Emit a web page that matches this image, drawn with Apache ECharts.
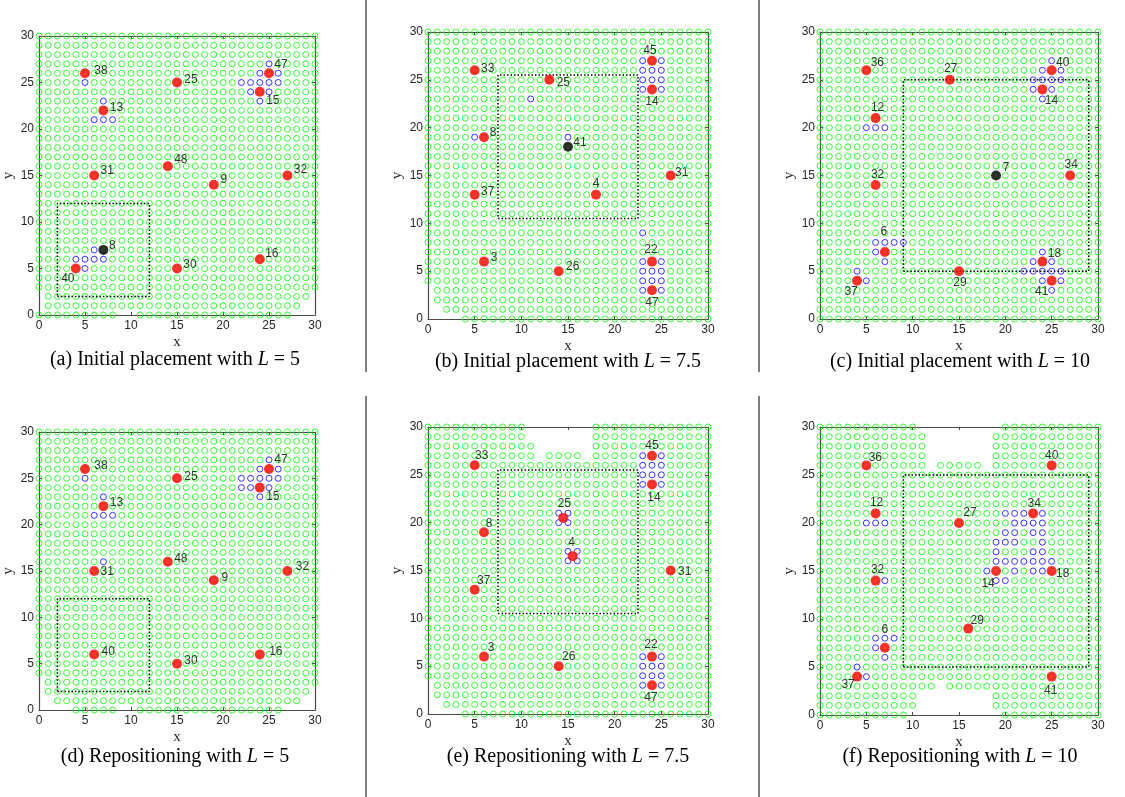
<!DOCTYPE html>
<html><head><meta charset="utf-8">
<script src="https://cdn.jsdelivr.net/npm/echarts@6/dist/echarts.min.js"></script>
<style>html,body{margin:0;padding:0;background:#fff}#c{width:1125px;height:797px}</style>
</head><body><div id="c"></div>
<script>
// ---------- data ----------
const axisTicks = [0, 5, 10, 15, 20, 25, 30];
const gridMax = 30;
const panelKeys = ['a', 'b', 'c', 'd', 'e', 'f'];
const captionPrefix = ['(a) Initial placement with ', '(b) Initial placement with ', '(c) Initial placement with ',
  '(d) Repositioning with ', '(e) Repositioning with ', '(f) Repositioning with '];
const captionL = ['5', '7.5', '10', '5', '7.5', '10'];

// (a)
const redA = [[5,26,'38'],[15,25,'25'],[25,26,'47'],[24,24,'15'],[7,22,'13'],[14,16,'48'],[6,15,'31'],[27,15,'32'],[19,14,'9'],[24,6,'16'],[15,5,'30'],[4,5,'40']];
const blackA = [[7,7,'8']];
const blueA = [[5,25],[7,23],[6,21],[7,21],[8,21],[25,27],[24,26],[26,26],[22,25],[23,25],[24,25],[25,25],[26,25],[23,24],[25,24],[24,23],[6,7],[4,6],[5,6],[6,6],[7,6],[5,5]];
const gapsA = [[0,9,10],[0,28,30],[1,0,0],[1,29,30],[2,0,0],[2,30,30]];
const boxA = [2,12,2,12];
// (b)
const redB = [[5,26,'33'],[13,25,'25'],[24,27,'45'],[24,24,'14'],[6,19,'8'],[26,15,'31'],[5,13,'37'],[18,13,'4'],[6,6,'3'],[14,5,'26'],[24,6,'22'],[24,3,'47']];
const blackB = [[15,18,'41']];
const blueB = [[11,23],[5,19],[15,19],[23,27],[25,27],[23,26],[24,26],[25,26],[23,25],[24,25],[25,25],[23,24],[25,24],[23,9],[23,6],[25,6],[23,5],[24,5],[25,5],[23,4],[24,4],[25,4],[23,3],[25,3]];
const gapsB = [[0,0,3],[1,0,1],[2,0,0],[3,0,0]];
const boxB = [7.5,22.5,10.5,25.5];
// (c)
const redC = [[5,26,'36'],[14,25,'27'],[25,26,'40'],[24,24,'14'],[6,21,'12'],[6,14,'32'],[27,15,'34'],[7,7,'6'],[24,6,'18'],[15,5,'29'],[4,4,'37'],[25,4,'41']];
const blackC = [[19,15,'7']];
const blueC = [[25,27],[24,26],[26,26],[23,25],[24,25],[25,25],[26,25],[23,24],[25,24],[24,23],[5,20],[6,20],[7,20],[6,8],[7,8],[8,8],[9,8],[6,7],[7,6],[4,5],[5,4],[24,7],[23,6],[25,6],[22,5],[23,5],[24,5],[25,5],[26,5],[24,4],[26,4],[25,3]];
const gapsC = [];
const boxC = [9,29,5,25];
// (d)
const redD = [[5,26,'38'],[15,25,'25'],[25,26,'47'],[24,24,'15'],[7,22,'13'],[14,16,'48'],[6,15,'31'],[27,15,'32'],[19,14,'9'],[6,6,'40'],[15,5,'30'],[24,6,'16']];
const blackD = [];
const blueD = [[5,25],[7,23],[6,21],[7,21],[8,21],[7,16],[25,27],[24,26],[26,26],[22,25],[23,25],[24,25],[25,25],[26,25],[22,24],[23,24],[25,24],[24,23]];
const gapsD = [[0,0,3],[0,9,10],[0,27,30],[1,0,1],[1,29,30],[2,0,0],[2,30,30],[3,0,0]];
const boxD = [2,12,2,12];
// (e)
const redE = [[5,26,'33'],[24,27,'45'],[24,24,'14'],[14.5,20.5,'25'],[6,19,'8'],[15.5,16.5,'4'],[26,15,'31'],[5,13,'37'],[6,6,'3'],[14,5,'26'],[24,6,'22'],[24,3,'47']];
const blackE = [];
const blueE = [[23,27],[25,27],[23,26],[24,26],[25,26],[23,25],[24,25],[25,25],[23,24],[25,24],[14,21],[15,21],[14,20],[15,20],[15,17],[16,17],[15,16],[16,16],[23,6],[25,6],[23,5],[24,5],[25,5],[23,4],[24,4],[25,4],[23,3],[25,3]];
const gapsE = [[0,0,3],[1,0,1],[2,0,0],[3,0,0],[27,12,12],[27,17,17],[28,12,17],[29,11,17],[30,11,17]];
const boxE = [7.5,22.5,10.5,25.5];
// (f)
const redF = [[5,26,'36'],[25,26,'40'],[6,21,'12'],[23,21,'34'],[15,20,'27'],[6,14,'32'],[19,15,'14'],[25,15,'18'],[16,9,'29'],[7,7,'6'],[4,4,'37'],[25,4,'41']];
const blackF = [];
const blueF = [[5,20],[6,20],[7,20],[7,14],[6,8],[7,8],[8,8],[6,7],[7,6],[4,5],[5,4],
  [20,21],[21,21],[22,21],[24,21],[21,20],[22,20],[23,20],[24,20],[20,19],[21,19],[23,19],[24,19],
  [19,18],[20,18],[21,18],[24,18],[19,17],[23,17],[24,17],[19,16],[20,16],[21,16],[22,16],[23,16],[24,16],[25,16],
  [18,15],[21,15],[23,15],[24,15],[19,14],[20,14]];
const gapsF = [[0,10,19],[1,11,18],[2,11,18],[3,13,13],[26,12,12],[26,18,18],[27,12,18],[28,12,18],[29,12,18],[30,11,19]];
const boxF = [9,29,5,25];

// ---------- style / layout ----------
const grids = [
  {left:36, top:36, width:279, height:279},
  {left:428, top:32, width:280, height:287},
  {left:820, top:32, width:278, height:287},
  {left:36, top:432, width:279, height:278},
  {left:428, top:427, width:280, height:287},
  {left:820, top:427, width:278, height:288}
];
const captionPos = [[175,360],[568,362],[960,362],[175,757],[568,757],[960,757]];
const labelOffsets = {
  a: {'38':[16,-3],'25':[14,-3],'47':[12,-9],'15':[13,9],'13':[13,-3],'48':[13,-7],'31':[13,-5],'32':[13,-6],'9':[10,-5],'16':[12,-6],'30':[13,-4],'40':[-8,10],'8':[9,-4]},
  b: {'33':[13,-2],'25':[14,3],'45':[-2,-10],'14':[0,12],'8':[9,-5],'41':[12,-4],'31':[11,-3],'37':[13,-3],'4':[0,-11],'3':[10,-4],'26':[14,-4],'22':[-1,-12],'47':[0,12]},
  c: {'36':[11,-8],'27':[1,-11],'40':[11,-8],'14':[9,11],'12':[2,-10],'32':[2,-10],'7':[10,-8],'34':[1,-11],'6':[-1,-20],'18':[12,-8],'29':[1,12],'37':[-6,11],'41':[-10,11]},
  d: {'38':[16,-3],'25':[14,-2],'47':[12,-9],'15':[13,9],'13':[13,-3],'48':[13,-3],'31':[13,1],'32':[15,-4],'9':[11,-3],'40':[14,-3],'30':[14,-3],'16':[16,-3]},
  e: {'33':[7,-10],'45':[0,-10],'14':[2,13],'25':[1,-14],'8':[5,-9],'4':[-1,-13],'31':[14,1],'37':[9,-9],'3':[7,-9],'26':[10,-9],'22':[-1,-12],'47':[-1,12]},
  f: {'36':[9,-8],'12':[1,-11],'27':[11,-10],'34':[1,-10],'40':[0,-10],'32':[2,-11],'14':[-8,13],'18':[11,3],'29':[9,-8],'6':[0,-18],'37':[-9,8],'41':[-1,14]}
};
const panels = [
  {red:redA, black:blackA, blue:blueA, gaps:gapsA, box:boxA},
  {red:redB, black:blackB, blue:blueB, gaps:gapsB, box:boxB},
  {red:redC, black:blackC, blue:blueC, gaps:gapsC, box:boxC},
  {red:redD, black:blackD, blue:blueD, gaps:gapsD, box:boxD},
  {red:redE, black:blackE, blue:blueE, gaps:gapsE, box:boxE},
  {red:redF, black:blackF, blue:blueF, gaps:gapsF, box:boxF}
];

const AX = '#4a4a4a', TXT = '#262626';
const sans = 'Liberation Sans, Arial, sans-serif';
const serif = 'Liberation Serif, Times New Roman, serif';

function greenPoints(p) {
  const taken = new Set(p.blue.map(b => b[0] + ',' + b[1]));
  const out = [];
  for (let y = 0; y <= gridMax; y++) {
    for (let x = 0; x <= gridMax; x++) {
      if (taken.has(x + ',' + y)) continue;
      if (p.gaps.some(g => g[0] === y && x >= g[1] && x <= g[2])) continue;
      out.push([x, y]);
    }
  }
  return out;
}

const xAxes = [], yAxes = [], series = [];
grids.forEach((g, i) => {
  const base = {gridIndex:i, type:'value', min:axisTicks[0], max:axisTicks[axisTicks.length-1], interval:axisTicks[1]-axisTicks[0],
    splitLine:{show:false}, axisLine:{show:true, onZero:false, lineStyle:{color:AX, width:1.2}},
    axisTick:{show:true, inside:true, length:3, lineStyle:{color:AX}}};
  xAxes.push(Object.assign({}, base, {position:'bottom',
    axisLabel:{color:TXT, fontSize:12, fontFamily:sans, margin:5},
    name:'x', nameLocation:'middle', nameGap:20, nameTextStyle:{fontFamily:serif, fontSize:15, color:TXT}}));
  xAxes.push(Object.assign({}, base, {position:'top', axisLabel:{show:false}}));
  yAxes.push(Object.assign({}, base, {position:'left',
    axisLabel:{color:TXT, fontSize:12, fontFamily:sans, margin:5},
    name:'y', nameLocation:'middle', nameGap:23, nameTextStyle:{fontFamily:serif, fontSize:15, color:TXT}}));
  yAxes.push(Object.assign({}, base, {position:'right', axisLabel:{show:false}}));

  const p = panels[i], key = panelKeys[i];
  const xi = 2 * i, yi = 2 * i;
  series.push({type:'scatter', xAxisIndex:xi, yAxisIndex:yi, data:greenPoints(p), symbol:'circle', symbolSize:6, silent:true, clip:false,
    itemStyle:{color:'rgba(0,0,0,0)', borderColor:'#00ff00', borderWidth:1}, z:2});
  const b = p.box;
  series.push({type:'line', xAxisIndex:xi, yAxisIndex:yi, data:[[b[0],b[2]],[b[1],b[2]],[b[1],b[3]],[b[0],b[3]],[b[0],b[2]]],
    symbol:'none', silent:true, lineStyle:{color:'#000', width:1.5, type:[1.5,2]}, z:3});
  series.push({type:'scatter', xAxisIndex:xi, yAxisIndex:yi, data:p.blue, symbol:'circle', symbolSize:6, silent:true, clip:false,
    itemStyle:{color:'rgba(0,0,0,0)', borderColor:'#0000ff', borderWidth:1}, z:4});
  const mk = (arr) => arr.map(n => ({value:[n[0], n[1]], name:n[2],
    label:{offset:labelOffsets[key][n[2]] || [10,-6]}}));
  const lab = {show:true, position:'inside', formatter:'{b}', color:'#000', fontSize:12, fontFamily:sans, align:'center', verticalAlign:'middle'};
  series.push({type:'scatter', xAxisIndex:xi, yAxisIndex:yi, data:mk(p.red), symbol:'circle', symbolSize:10, silent:true, clip:false,
    itemStyle:{color:'#ff0000'}, label:lab, z:5});
  if (p.black.length) series.push({type:'scatter', xAxisIndex:xi, yAxisIndex:yi, data:mk(p.black), symbol:'circle', symbolSize:10, silent:true, clip:false,
    itemStyle:{color:'#000'}, label:lab, z:5});
});

const graphics = captionPos.map((c, i) => ({type:'text', x:c[0], y:c[1],
  style:{text:captionPrefix[i] + '{i|L} = ' + captionL[i], font:'20px ' + serif, fill:'#000', align:'center', verticalAlign:'middle',
    rich:{i:{fontStyle:'italic', fontSize:20, fontFamily:serif}}}}));
[[366,0,366,372],[759,0,759,372],[366,396,366,797],[759,396,759,797]].forEach(l =>
  graphics.push({type:'line', shape:{x1:l[0], y1:l[1], x2:l[2], y2:l[3]}, style:{stroke:'#000', lineWidth:1}}));

const chart = echarts.init(document.getElementById('c'), null, {renderer:'canvas'});
chart.setOption({animation:false, grid:grids.map(g => Object.assign({containLabel:false, show:false}, g)),
  xAxis:xAxes, yAxis:yAxes, series:series, graphic:graphics});
</script></body></html>
